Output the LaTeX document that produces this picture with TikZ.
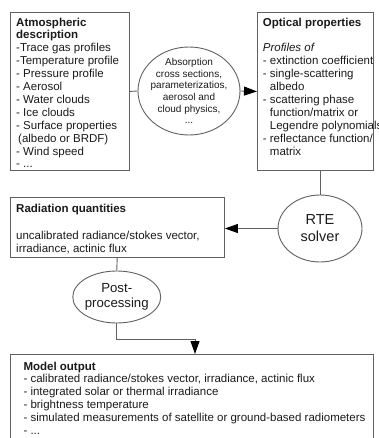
\documentclass[tikz,border=0pt]{standalone}
\usepackage{fontspec}
\setmainfont{Liberation Sans}
\usetikzlibrary{arrows.meta,shapes.geometric}
\definecolor{linec}{HTML}{606060}
\definecolor{txtc}{HTML}{1A1A1A}
\begin{document}
\begin{tikzpicture}[x=1pt,y=-1pt,
  box/.style={draw=linec, line width=0.9pt, inner sep=0pt, anchor=north west},
  oval/.style={ellipse, draw=linec, line width=0.9pt, inner sep=0pt},
  txt/.style={inner sep=0pt, anchor=north west, align=left, text=txtc, font=\fontsize{11.5}{12.9}\selectfont},
  otxt/.style={inner sep=0pt, align=center, text=txtc},
  conn/.style={draw=linec, line width=0.9pt},
  arr/.style={conn, -{Triangle[length=13pt,width=9pt,color=black]}}
]
\useasboundingbox (0,0) rectangle (379,438);
\clip (0,0) rectangle (379,438);

% boxes
\node[box, minimum width=119.5pt, minimum height=158pt] (atm) at (9.5,12) {};
\node[box, minimum width=116pt, minimum height=158pt] (opt) at (257,12) {};
\node[box, minimum width=214.5pt, minimum height=60pt] (rad) at (9.5,197) {};
\node[box, minimum width=363.5pt, minimum height=110pt] (out) at (9.5,354) {};

% ellipses
\node[oval, minimum width=102pt, minimum height=88pt] (abs) at (189,91) {};
\node[oval, minimum width=84pt, minimum height=67pt] (rte) at (320,228.5) {};
\node[oval, minimum width=88pt, minimum height=52pt] (pp) at (116.75,297) {};

% texts
\node[txt] (atmt) at (16,17.5) {\textbf{Atmospheric}\\\textbf{description}\\-Trace gas profiles\\-Temperature profile\\- Pressure profile\\- Aerosol\\- Water clouds\\- Ice clouds\\- Surface properties\\\hspace*{2pt}(albedo or BRDF)\\- Wind speed\\- ...};
\node[txt] (optt) at (262.7,17.5) {\textbf{Optical properties}\\[12.9pt]\textit{Profiles of}\\- extinction coefficient\\- single-scattering\\\phantom{- }albedo\\- scattering phase\\\phantom{- }function/matrix or\\\phantom{- }Legendre polynomials\\- reflectance function/\\\phantom{- }matrix};
\node[txt] (radt) at (16,203.8) {\textbf{Radiation quantities}\\[14pt]uncalibrated radiance/stokes vector,\\irradiance, actinic flux};
\node[txt] (outt) at (23.3,361.5) {\textbf{Model output}\\- calibrated radiance/stokes vector, irradiance, actinic flux\\- integrated solar or thermal irradiance\\- brightness temperature\\- simulated measurements of satellite or ground-based radiometers\\- ...};

\node[otxt, font=\fontsize{10}{11.7}\selectfont] (abst) at (abs) {Absorption\\cross sections,\\parameterizatios,\\aerosol and\\cloud physics,\\...};
\node[otxt, font=\fontsize{14.5}{17}\selectfont] (rtet) at (rte) {RTE\\solver};
\node[otxt, font=\fontsize{13.2}{14.5}\selectfont] (ppt) at (pp) {Post-\\processing};

% connectors
\draw[conn] (atm.east) -- (abs.west);
\draw[arr] (abs.east) -- (opt.west);
\draw[conn] (opt.south -| rte.north) -- (rte.north);
\draw[arr] (rte.west) -- (rte.west -| rad.east);
\draw[conn] (rad.south) -- (pp.north);
\coordinate (bend) at (195,339);
\draw[arr] (pp.south) |- (bend) -- (bend |- out.north);
\end{tikzpicture}
\end{document}
